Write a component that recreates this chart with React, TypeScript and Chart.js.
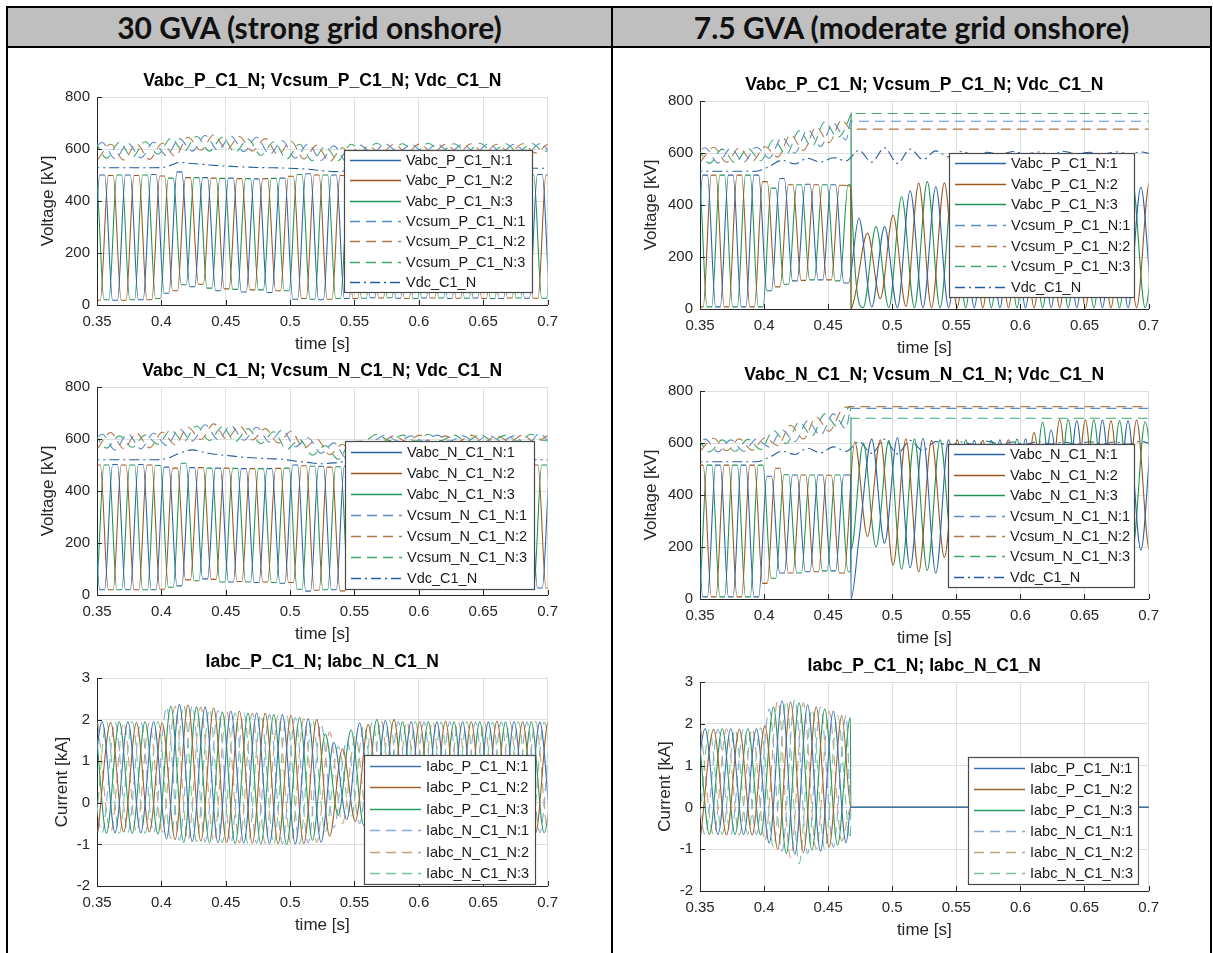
import React, { useEffect, useRef } from 'react';
import { Chart, registerables } from 'chart.js';

Chart.register(...registerables);

// ---------- DATA ----------
// Extremum instants of phase 1 (s); phases 2 and 3 are read at +/- one third of the 50 Hz period
const T_EXT = [0.344, 0.354, 0.364, 0.374, 0.384, 0.394, 0.404, 0.414, 0.424, 0.434,
  0.444, 0.454, 0.464, 0.474, 0.484, 0.494, 0.504, 0.514, 0.524, 0.534,
  0.544, 0.554, 0.564, 0.574, 0.584, 0.594, 0.604, 0.614, 0.624, 0.634,
  0.644, 0.654, 0.664, 0.674, 0.684, 0.694, 0.704, 0.714];
const PHASE_SHIFT = [0, 0.00667, -0.00667];
const T_BLOCK = 0.4677; // blocking instant in the 7.5 GVA case

const X_TICKS = [0.35, 0.4, 0.45, 0.5, 0.55, 0.6, 0.65, 0.7];
const V_TICKS = [0, 200, 400, 600, 800];
const I_TICKS = [-2, -1, 0, 1, 2, 3];

// 30 GVA, upper arm voltages [kV]
const TL_VABC1 = [20, 500, 18, 500, 20, 502, 45, 512, 70, 490,
  55, 488, 50, 485, 48, 488, 22, 505, 20, 500,
  25, 498, 28, 498, 26, 500, 27, 498, 25, 500,
  27, 498, 25, 500, 26, 502, 25, 500];
const TL_VABC2 = [18, 498, 18, 498, 20, 496, 55, 490, 80, 488,
  62, 486, 58, 486, 55, 495, 25, 500, 22, 498,
  25, 500, 27, 498, 25, 500, 27, 498, 26, 500,
  25, 498, 27, 500, 26, 500, 27, 498];
const TL_VABC3 = [20, 500, 20, 500, 20, 500, 25, 488, 78, 490,
  65, 487, 60, 486, 58, 487, 55, 502, 22, 500,
  25, 498, 26, 500, 28, 498, 25, 500, 27, 498,
  26, 500, 25, 498, 27, 500, 26, 500];
const TL_VCSUM1 = [565, 625, 562, 622, 566, 626, 575, 640, 592, 652,
  595, 650, 590, 645, 580, 632, 565, 620, 556, 612,
  550, 615, 585, 620, 588, 618, 586, 620, 588, 618,
  586, 620, 588, 618, 586, 620, 585, 618];
const TL_VCSUM2 = [560, 618, 558, 620, 560, 622, 572, 645, 595, 655,
  598, 648, 592, 640, 578, 630, 562, 615, 552, 605,
  548, 612, 583, 618, 586, 620, 585, 618, 587, 620,
  585, 618, 586, 620, 585, 618, 586, 620];
const TL_VCSUM3 = [568, 628, 565, 625, 568, 628, 580, 642, 590, 648,
  592, 645, 588, 638, 575, 628, 562, 618, 555, 610,
  555, 618, 588, 622, 590, 620, 588, 622, 590, 620,
  588, 622, 590, 620, 588, 622, 590, 620];
const TL_VDC = [528, 528, 528, 528, 528, 528, 532, 548, 544, 540,
  536, 533, 531, 529, 528, 527, 525, 522, 517, 513,
  516, 522, 525, 526, 526, 526, 526, 526, 526, 526,
  526, 526, 526, 526, 526, 526, 526, 526];

// 30 GVA, lower arm voltages [kV]
const ML_VABC1 = [502, 20, 502, 20, 502, 20, 492, 35, 490, 62,
  488, 50, 486, 48, 486, 45, 500, 15, 495, 20,
  495, 27, 498, 27, 498, 26, 498, 27, 498, 26,
  498, 27, 500, 26, 500, 27, 500, 26];
const ML_VABC2 = [500, 20, 500, 20, 500, 22, 488, 58, 490, 60,
  488, 52, 486, 50, 487, 48, 497, 18, 492, 16,
  494, 26, 498, 27, 500, 26, 498, 27, 498, 26,
  500, 27, 498, 26, 500, 27, 500, 26];
const ML_VABC3 = [500, 20, 500, 20, 500, 20, 498, 30, 507, 55,
  488, 50, 487, 50, 486, 48, 488, 22, 495, 20,
  493, 25, 498, 27, 500, 26, 498, 27, 498, 26,
  500, 27, 498, 26, 500, 27, 500, 26];
const ML_VCSUM1 = [560, 618, 558, 620, 562, 622, 575, 638, 592, 655,
  598, 652, 595, 645, 588, 635, 570, 605, 545, 585,
  525, 580, 590, 615, 592, 612, 590, 615, 592, 612,
  590, 615, 592, 612, 575, 622, 572, 618];
const ML_VCSUM2 = [565, 625, 562, 622, 566, 626, 578, 645, 598, 658,
  600, 650, 596, 640, 585, 630, 565, 600, 540, 580,
  520, 585, 588, 612, 590, 615, 588, 612, 590, 615,
  588, 612, 590, 615, 585, 612, 575, 610];
const ML_VCSUM3 = [568, 615, 565, 612, 568, 615, 580, 635, 590, 650,
  594, 648, 590, 640, 582, 628, 560, 598, 538, 575,
  522, 590, 592, 618, 594, 615, 592, 618, 594, 615,
  592, 618, 594, 615, 592, 618, 594, 615];
const ML_VDC = [520, 520, 520, 520, 520, 520, 525, 545, 558, 548,
  540, 535, 530, 527, 524, 522, 515, 510, 505, 508,
  514, 519, 520, 520, 520, 520, 520, 520, 520, 520,
  520, 520, 520, 520, 520, 520, 520, 520];

// 30 GVA, arm currents [kA]
const BL_IP1 = [-0.72, 1.95, -0.72, 1.95, -0.72, 1.95, -0.86, 2.36, -0.93, 2.3,
  -0.96, 2.2, -0.97, 2.16, -0.98, 2.12, -0.99, 2.02, -0.95, 1.45,
  -0.4, 1.92, -0.62, 1.98, -0.7, 1.95, -0.72, 1.94, -0.72, 1.95,
  -0.72, 1.94, -0.72, 1.95, -0.72, 1.94, -0.72, 1.95];
const BL_IP2 = [-0.7, 1.93, -0.7, 1.93, -0.7, 1.92, -0.88, 2.35, -0.92, 2.28,
  -0.95, 2.2, -0.97, 2.15, -0.98, 2.1, -0.98, 2.0, -0.8, 1.3,
  -0.45, 1.88, -0.62, 2.0, -0.7, 1.95, -0.72, 1.96, -0.72, 1.95,
  -0.72, 1.96, -0.72, 1.95, -0.72, 1.96, -0.72, 1.95];
const BL_IP3 = [-0.73, 1.95, -0.73, 1.95, -0.73, 1.95, -0.75, 2.32, -0.95, 2.3,
  -0.96, 2.18, -0.98, 2.15, -0.99, 2.12, -1.0, 2.05, -0.9, 1.65,
  -0.3, 1.75, -0.55, 2.0, -0.68, 1.95, -0.72, 1.95, -0.72, 1.94,
  -0.72, 1.95, -0.72, 1.94, -0.72, 1.95, -0.72, 1.94];
const BL_IN1 = [1.94, -0.72, 1.94, -0.72, 1.94, -0.72, 2.3, -0.9, 2.33, -0.94,
  2.22, -0.96, 2.16, -0.97, 2.12, -0.98, 2.05, -0.97, 1.9, -0.6,
  1.5, -0.5, 1.95, -0.65, 1.95, -0.72, 1.94, -0.72, 1.95, -0.72,
  1.94, -0.72, 1.95, -0.72, 1.94, -0.72, 1.95, -0.72];
const BL_IN2 = [1.93, -0.7, 1.93, -0.7, 1.93, -0.7, 2.32, -0.9, 2.3, -0.93,
  2.2, -0.96, 2.15, -0.97, 2.1, -0.98, 2.02, -0.95, 1.7, -0.5,
  1.6, -0.55, 1.98, -0.68, 1.95, -0.72, 1.96, -0.72, 1.95, -0.72,
  1.96, -0.72, 1.95, -0.72, 1.96, -0.72, 1.95, -0.72];
const BL_IN3 = [1.95, -0.73, 1.95, -0.73, 1.95, -0.73, 1.95, -0.85, 2.35, -0.93,
  2.25, -0.96, 2.16, -0.98, 2.12, -0.99, 2.1, -0.98, 2.0, -0.7,
  1.35, -0.35, 1.85, -0.62, 1.98, -0.72, 1.95, -0.72, 1.94, -0.72,
  1.95, -0.72, 1.94, -0.72, 1.95, -0.72, 1.94, -0.72];

// 7.5 GVA, upper arm voltages [kV]
const TR_VABC1 = [8, 515, 8, 515, 8, 515, 70, 502, 108, 480,
  112, 478, 100, 350, 8, 317, 5, 455, 5, 470,
  5, 485, 5, 490, 5, 480, 5, 490, 5, 495,
  5, 490, 5, 495, 5, 468, 5, 480];
const TR_VABC2 = [8, 515, 8, 515, 8, 490, 85, 478, 110, 478,
  112, 476, 45, 292, 40, 361, 10, 484, 5, 485,
  5, 490, 5, 485, 5, 490, 5, 488, 5, 492,
  5, 488, 5, 490, 5, 485, 5, 470];
const TR_VABC3 = [8, 515, 8, 515, 8, 515, 8, 465, 95, 478,
  112, 478, 108, 478, 5, 317, 5, 432, 5, 490,
  5, 488, 5, 490, 5, 485, 5, 490, 5, 488,
  5, 492, 5, 485, 5, 490, 5, 480];
const TR_VCSUM1 = [565, 620, 562, 618, 565, 622, 580, 660, 600, 690,
  625, 715, 650, 722, 722, 722, 722, 722, 722, 722,
  722, 722, 722, 722, 722, 722, 722, 722, 722, 722,
  722, 722, 722, 722, 722, 722, 722, 722];
const TR_VCSUM2 = [568, 622, 565, 620, 568, 624, 585, 670, 610, 700,
  640, 728, 692, 692, 692, 692, 692, 692, 692, 692,
  692, 692, 692, 692, 692, 692, 692, 692, 692, 692,
  692, 692, 692, 692, 692, 692, 692, 692];
const TR_VCSUM3 = [560, 615, 560, 615, 562, 618, 570, 650, 595, 685,
  625, 720, 660, 745, 752, 752, 752, 752, 752, 752,
  752, 752, 752, 752, 752, 752, 752, 752, 752, 752,
  752, 752, 752, 752, 752, 752, 752, 752];
const TR_VDC = [530, 530, 530, 530, 530, 530, 548, 572, 558, 580,
  565, 582, 570, 610, 565, 620, 560, 615, 575, 608,
  585, 606, 592, 603, 594, 606, 595, 604, 594, 606,
  596, 603, 594, 605, 596, 604, 595, 603];

// 7.5 GVA, lower arm voltages [kV]
const MR_VABC1 = [515, 8, 515, 8, 515, 8, 472, 100, 477, 105,
  477, 108, 477, 230, 615, 215, 620, 120, 618, 100,
  612, 170, 610, 190, 612, 185, 615, 190, 650, 190,
  685, 185, 688, 190, 685, 188, 680, 190];
const MR_VABC2 = [515, 8, 515, 8, 515, 60, 503, 100, 477, 105,
  476, 100, 605, 240, 612, 130, 615, 105, 610, 160,
  612, 185, 610, 190, 612, 185, 640, 190, 690, 185,
  688, 190, 685, 185, 688, 190, 680, 190];
const MR_VABC3 = [515, 8, 515, 8, 515, 8, 515, 80, 478, 100,
  477, 108, 477, 105, 600, 200, 610, 115, 615, 110,
  612, 175, 612, 190, 610, 185, 615, 190, 680, 185,
  690, 190, 688, 185, 685, 188, 682, 190];
const MR_VCSUM1 = [568, 615, 566, 612, 568, 615, 585, 650, 605, 685,
  630, 712, 655, 733, 733, 733, 733, 733, 733, 733,
  733, 733, 733, 733, 733, 733, 733, 733, 733, 733,
  733, 733, 733, 733, 733, 733, 733, 733];
const MR_VCSUM2 = [572, 618, 570, 616, 572, 620, 590, 668, 615, 700,
  645, 728, 740, 740, 740, 740, 740, 740, 740, 740,
  740, 740, 740, 740, 740, 740, 740, 740, 740, 740,
  740, 740, 740, 740, 740, 740, 740, 740];
const MR_VCSUM3 = [566, 612, 566, 612, 568, 614, 575, 648, 598, 680,
  628, 712, 662, 742, 695, 695, 695, 695, 695, 695,
  695, 695, 695, 695, 695, 695, 695, 695, 695, 695,
  695, 695, 695, 695, 695, 695, 695, 695];
const MR_VDC = [528, 528, 528, 528, 528, 528, 545, 568, 556, 580,
  562, 585, 568, 605, 560, 615, 558, 610, 570, 606,
  588, 604, 594, 607, 596, 604, 595, 606, 596, 603,
  595, 605, 596, 604, 595, 606, 596, 604];

// 7.5 GVA, arm currents [kA]
const BR_IP1 = [-0.65, 1.88, -0.65, 1.88, -0.65, 1.88, -0.85, 2.55, -1.12, 2.45,
  -1.05, 2.3, -0.85, 0, 0, 0, 0, 0, 0, 0,
  0, 0, 0, 0, 0, 0, 0, 0, 0, 0,
  0, 0, 0, 0, 0, 0, 0, 0];
const BR_IP2 = [-0.66, 1.87, -0.66, 1.87, -0.66, 1.95, -1.0, 2.52, -1.08, 2.4,
  -0.95, 2.2, 0, 0, 0, 0, 0, 0, 0, 0,
  0, 0, 0, 0, 0, 0, 0, 0, 0, 0,
  0, 0, 0, 0, 0, 0, 0, 0];
const BR_IP3 = [-0.64, 1.88, -0.64, 1.88, -0.64, 1.88, -0.66, 2.4, -1.1, 2.5,
  -1.02, 2.35, -0.9, 2.15, 0, 0, 0, 0, 0, 0,
  0, 0, 0, 0, 0, 0, 0, 0, 0, 0,
  0, 0, 0, 0, 0, 0, 0, 0];
const BR_IN1 = [1.87, -0.65, 1.87, -0.65, 1.87, -0.65, 2.35, -1.05, 2.58, -1.1,
  2.4, -0.95, 2.2, 0, 0, 0, 0, 0, 0, 0,
  0, 0, 0, 0, 0, 0, 0, 0, 0, 0,
  0, 0, 0, 0, 0, 0, 0, 0];
const BR_IN2 = [1.88, -0.66, 1.88, -0.66, 1.88, -0.8, 2.55, -1.2, 2.5, -1.0,
  2.3, -0.8, 0, 0, 0, 0, 0, 0, 0, 0,
  0, 0, 0, 0, 0, 0, 0, 0, 0, 0,
  0, 0, 0, 0, 0, 0, 0, 0];
const BR_IN3 = [1.86, -0.64, 1.86, -0.64, 1.86, -0.64, 1.9, -0.95, 2.55, -1.35,
  2.35, -1.0, 2.2, -0.75, 0, 0, 0, 0, 0, 0,
  0, 0, 0, 0, 0, 0, 0, 0, 0, 0,
  0, 0, 0, 0, 0, 0, 0, 0];

// values passed through at the blocking instant (vertical jumps)
const TR_KNOTS2 = [470, 0];
const TR_KNOTS3 = [478, 0, 755, 470];
const MR_KNOTS1 = [477, 0];
const MR_KNOTS3 = [105, 696, 190];

// ---------- STYLE ----------
const FONT = '"Liberation Sans", Arial, Helvetica, sans-serif';
const AX = '#262626';
const GRID = '#dfdfdf';
const C_VABC = ['#2a64a8', '#9a5a1e', '#1e9455'];
const C_VCSUM = ['#5a8cc8', '#b07a45', '#3da86c'];
const C_VDC = '#245c9e';
const C_IP = ['#3d73b3', '#a0652b', '#2b9c5f'];
const C_IN = ['#86aad6', '#c8a07a', '#75c49a'];
const DASH = [10, 6];
const DASHDOT = [10, 4, 2, 4];
const PAD_T = 32;
const PAD_R = 14;
const PAD_B = 54;

type Series = { label: string; values: number[]; phase: number; color: string; dash: number[]; plateau: number; knots?: number[] };
type PanelSpec = {
  id: string; plotLeft: number; plotTop: number; plotW: number; plotH: number; L: number;
  title: string; yTitle: string; yMin: number; yMax: number; yTicks: number[];
  event: number | null; legend: { right: number; top: number; w: number; h: number }; series: Series[];
};

function buildPoints(values: number[], shift: number, plateau: number, event: number | null, knots?: number[]) {
  let pts: { x: number; y: number }[] = [];
  for (let i = 0; i < T_EXT.length; i++) {
    const t = T_EXT[i] + shift;
    const v = values[i];
    const pre = event == null || t < event;
    if (plateau > 0 && pre) {
      pts.push({ x: t - plateau, y: v });
      pts.push({ x: t + plateau, y: v });
    } else {
      pts.push({ x: t, y: v });
    }
  }
  if (event != null) {
    pts = pts.filter((p) => p.x < event - 0.0003 || p.x > event + 0.0015);
    (knots || []).forEach((v, k) => pts.push({ x: event + k * 0.0001, y: v }));
    pts.sort((a, b) => a.x - b.x);
  }
  return pts;
}

function voltSeries(arm: string, v: number[][], c: number[][], dc: number[], plateau: number, knots: (number[] | undefined)[], cknots: (number[] | undefined)[]): Series[] {
  const out: Series[] = [];
  for (let p = 0; p < 3; p++) out.push({ label: `Vabc_${arm}_C1_N:${p + 1}`, values: v[p], phase: p, color: C_VABC[p], dash: [], plateau, knots: knots[p] });
  for (let p = 0; p < 3; p++) out.push({ label: `Vcsum_${arm}_C1_N:${p + 1}`, values: c[p], phase: p, color: C_VCSUM[p], dash: DASH, plateau: 0, knots: cknots[p] });
  out.push({ label: 'Vdc_C1_N', values: dc, phase: 0, color: C_VDC, dash: DASHDOT, plateau: 0 });
  return out;
}

function currSeries(ip: number[][], inn: number[][], knots?: number[]): Series[] {
  const out: Series[] = [];
  for (let p = 0; p < 3; p++) out.push({ label: `Iabc_P_C1_N:${p + 1}`, values: ip[p], phase: p, color: C_IP[p], dash: [], plateau: 0, knots });
  for (let p = 0; p < 3; p++) out.push({ label: `Iabc_N_C1_N:${p + 1}`, values: inn[p], phase: p, color: C_IN[p], dash: DASH, plateau: 0, knots });
  return out;
}

const NOK = [undefined, undefined, undefined];

const PANELS: PanelSpec[] = [
  {
    id: 'tl', plotLeft: 97, plotTop: 97, plotW: 455, plotH: 208, L: 63,
    title: 'Vabc_P_C1_N; Vcsum_P_C1_N; Vdc_C1_N', yTitle: 'Voltage [kV]', yMin: 0, yMax: 800, yTicks: V_TICKS,
    event: null, legend: { right: 16, top: 53, w: 188, h: 142 },
    series: voltSeries('P', [TL_VABC1, TL_VABC2, TL_VABC3], [TL_VCSUM1, TL_VCSUM2, TL_VCSUM3], TL_VDC, 0.0019, NOK, NOK),
  },
  {
    id: 'ml', plotLeft: 97, plotTop: 387, plotW: 455, plotH: 208, L: 63,
    title: 'Vabc_N_C1_N; Vcsum_N_C1_N; Vdc_C1_N', yTitle: 'Voltage [kV]', yMin: 0, yMax: 800, yTicks: V_TICKS,
    event: null, legend: { right: 14, top: 54, w: 189, h: 148 },
    series: voltSeries('N', [ML_VABC1, ML_VABC2, ML_VABC3], [ML_VCSUM1, ML_VCSUM2, ML_VCSUM3], ML_VDC, 0.0019, NOK, NOK),
  },
  {
    id: 'bl', plotLeft: 97, plotTop: 678, plotW: 455, plotH: 208, L: 49,
    title: 'Iabc_P_C1_N; Iabc_N_C1_N', yTitle: 'Current [kA]', yMin: -2, yMax: 3, yTicks: I_TICKS,
    event: null, legend: { right: 13, top: 77, w: 171, h: 129 },
    series: currSeries([BL_IP1, BL_IP2, BL_IP3], [BL_IN1, BL_IN2, BL_IN3]),
  },
  {
    id: 'tr', plotLeft: 700, plotTop: 101, plotW: 453, plotH: 208, L: 63,
    title: 'Vabc_P_C1_N; Vcsum_P_C1_N; Vdc_C1_N', yTitle: 'Voltage [kV]', yMin: 0, yMax: 800, yTicks: V_TICKS,
    event: T_BLOCK, legend: { right: 15, top: 52, w: 185, h: 144 },
    series: voltSeries('P', [TR_VABC1, TR_VABC2, TR_VABC3], [TR_VCSUM1, TR_VCSUM2, TR_VCSUM3], TR_VDC, 0.0018,
      [undefined, TR_KNOTS2, TR_KNOTS3], [[722], [692], [752]]),
  },
  {
    id: 'mr', plotLeft: 700, plotTop: 391, plotW: 453, plotH: 208, L: 63,
    title: 'Vabc_N_C1_N; Vcsum_N_C1_N; Vdc_C1_N', yTitle: 'Voltage [kV]', yMin: 0, yMax: 800, yTicks: V_TICKS,
    event: T_BLOCK, legend: { right: 15, top: 53, w: 186, h: 143 },
    series: voltSeries('N', [MR_VABC1, MR_VABC2, MR_VABC3], [MR_VCSUM1, MR_VCSUM2, MR_VCSUM3], MR_VDC, 0.0018,
      [MR_KNOTS1, undefined, MR_KNOTS3], [[733], [740], [695]]),
  },
  {
    id: 'br', plotLeft: 700, plotTop: 682, plotW: 453, plotH: 209, L: 49,
    title: 'Iabc_P_C1_N; Iabc_N_C1_N', yTitle: 'Current [kA]', yMin: -2, yMax: 3, yTicks: I_TICKS,
    event: T_BLOCK, legend: { right: 11, top: 75, w: 170, h: 127 },
    series: currSeries([BR_IP1, BR_IP2, BR_IP3], [BR_IN1, BR_IN2, BR_IN3], [0]),
  },
];

const framePlugin = {
  id: 'matlabFrame',
  afterDraw(chart: any, _args: any, opts: any) {
    const { ctx, chartArea: ca, scales } = chart;
    ctx.save();
    // inward tick marks
    ctx.strokeStyle = AX;
    ctx.lineWidth = 1;
    ctx.setLineDash([]);
    ctx.beginPath();
    scales.x.ticks.forEach((t: any) => {
      const px = Math.round(scales.x.getPixelForValue(t.value)) + 0.5;
      ctx.moveTo(px, ca.bottom);
      ctx.lineTo(px, ca.bottom - 5);
    });
    scales.y.ticks.forEach((t: any) => {
      const py = Math.round(scales.y.getPixelForValue(t.value)) + 0.5;
      ctx.moveTo(ca.left, py);
      ctx.lineTo(ca.left + 5, py);
    });
    ctx.stroke();
    // title
    ctx.fillStyle = '#000';
    ctx.font = `bold 17.5px ${FONT}`;
    ctx.textAlign = 'center';
    ctx.textBaseline = 'middle';
    ctx.fillText(opts.title, (ca.left + ca.right) / 2, ca.top - 16);
    // legend box
    const lg = opts.legend;
    const x0 = Math.round(ca.right - lg.right - lg.w);
    const y0 = Math.round(ca.top + lg.top);
    ctx.fillStyle = '#fff';
    ctx.fillRect(x0, y0, lg.w, lg.h);
    ctx.strokeStyle = '#4a4a4a';
    ctx.lineWidth = 1.2;
    ctx.strokeRect(x0 + 0.5, y0 + 0.5, lg.w, lg.h);
    const ds = chart.data.datasets;
    const rowH = lg.h / ds.length;
    ctx.font = `14.5px ${FONT}`;
    ctx.textAlign = 'left';
    ds.forEach((d: any, i: number) => {
      const cy = y0 + rowH * (i + 0.5);
      ctx.strokeStyle = d.borderColor;
      ctx.lineWidth = 1.5;
      ctx.setLineDash(d.borderDash || []);
      ctx.beginPath();
      ctx.moveTo(x0 + 6, Math.round(cy) + 0.5);
      ctx.lineTo(x0 + 57, Math.round(cy) + 0.5);
      ctx.stroke();
      ctx.setLineDash([]);
      ctx.fillStyle = '#1a1a1a';
      ctx.fillText(d.label, x0 + 62, cy + 1);
    });
    ctx.restore();
  },
};

function Panel({ spec }: { spec: PanelSpec }) {
  const ref = useRef<HTMLCanvasElement | null>(null);
  const W = spec.plotW + spec.L + PAD_R;
  const H = spec.plotH + PAD_T + PAD_B;
  useEffect(() => {
    if (!ref.current) return;
    const datasets = spec.series.map((s) => ({
      label: s.label,
      data: buildPoints(s.values, PHASE_SHIFT[s.phase], s.plateau, spec.event, s.knots),
      borderColor: s.color,
      backgroundColor: s.color,
      borderDash: s.dash,
      borderWidth: 1.1,
      pointRadius: 0,
      fill: false,
      cubicInterpolationMode: 'monotone' as const,
    }));
    const chart = new Chart(ref.current, {
      type: 'line',
      data: { datasets },
      plugins: [framePlugin],
      options: {
        animation: false,
        responsive: false,
        maintainAspectRatio: false,
        events: [],
        layout: { padding: { top: PAD_T, right: PAD_R, left: 0, bottom: 0 } },
        scales: {
          x: {
            type: 'linear', min: 0.35, max: 0.7,
            afterFit: (s: any) => { s.height = PAD_B; },
            afterBuildTicks: (s: any) => { s.ticks = X_TICKS.map((v) => ({ value: v })); },
            ticks: { autoSkip: false, maxRotation: 0, padding: 8, color: AX, font: { family: FONT, size: 15 }, callback: (v: any) => String(Math.round(Number(v) * 100) / 100) },
            grid: { color: GRID, drawTicks: false, lineWidth: 1 },
            border: { color: AX, width: 1 },
            title: { display: true, text: 'time [s]', color: AX, font: { family: FONT, size: 17 }, padding: { top: 4, bottom: 4 } },
          },
          y: {
            type: 'linear', min: spec.yMin, max: spec.yMax,
            afterFit: (s: any) => { s.width = spec.L; },
            afterBuildTicks: (s: any) => { s.ticks = spec.yTicks.map((v) => ({ value: v })); },
            ticks: { padding: 7, color: AX, font: { family: FONT, size: 15 } },
            grid: { color: GRID, drawTicks: false, lineWidth: 1 },
            border: { color: AX, width: 1 },
            title: { display: true, text: spec.yTitle, color: AX, font: { family: FONT, size: 17 }, padding: { top: 4, bottom: 4 } },
          },
        },
        plugins: {
          legend: { display: false },
          title: { display: false },
          tooltip: { enabled: false },
          matlabFrame: { title: spec.title, legend: spec.legend },
        } as any,
      },
    } as any);
    return () => chart.destroy();
  }, [spec]);
  return (
    <canvas
      ref={ref}
      width={W}
      height={H}
      style={{ position: 'absolute', left: spec.plotLeft - spec.L, top: spec.plotTop - PAD_T, width: W, height: H }}
    />
  );
}

const line = (left: number, top: number, width: number, height: number): React.CSSProperties => ({
  position: 'absolute', left, top, width, height, background: '#000',
});

const headerText = (left: number, width: number): React.CSSProperties => ({
  position: 'absolute', left, top: 8, width, height: 38, display: 'flex', alignItems: 'center', justifyContent: 'center',
  fontFamily: 'Lato, "Open Sans", sans-serif', fontWeight: 700, fontSize: 30, color: '#111', whiteSpace: 'nowrap',
});

export default function App() {
  return (
    <div style={{ position: 'absolute', left: 0, top: 0, width: 1213, height: 953, background: '#fff', overflow: 'hidden' }}>
      <div style={{ position: 'absolute', left: 8, top: 8, width: 1202, height: 38, background: '#bfbfbf' }} />
      <div style={line(6, 6, 1206, 2)} />
      <div style={line(6, 46, 1206, 2)} />
      <div style={line(6, 6, 2, 947)} />
      <div style={line(611, 6, 2, 947)} />
      <div style={line(1210, 6, 2, 947)} />
      <div style={headerText(8, 603)}>30 GVA (strong grid onshore)</div>
      <div style={headerText(613, 597)}>7.5 GVA (moderate grid onshore)</div>
      {PANELS.map((p) => <Panel key={p.id} spec={p} />)}
    </div>
  );
}
